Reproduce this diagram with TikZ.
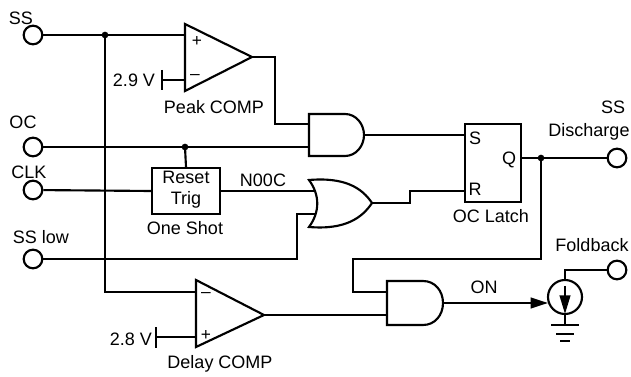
\documentclass[tikz,border=0pt]{standalone}
\usepackage{fontspec}
\setmainfont{Liberation Sans}
\usetikzlibrary{arrows.meta}
\tikzset{
  wire/.style={line width=1.6pt,line join=miter,line cap=butt},
  term/.style={circle,draw,line width=1.6pt,fill=white,minimum size=14pt,inner sep=0pt},
  dotj/.style={circle,fill=black,minimum size=5pt,inner sep=0pt},
  lab/.style={inner sep=0pt,font=\fontsize{13.5}{15}\selectfont},
  pm/.style={inner sep=0pt,font=\fontsize{13}{14}\selectfont},
  boxn/.style={draw,line width=1.6pt,inner sep=0pt}
}
\begin{document}
\begin{tikzpicture}[x=0.75pt,y=-0.75pt]
\useasboundingbox (0,0) rectangle (631,377);
% terminals
\node[term] (ss) at (33,35) {};
\node[term] (oc) at (33,147) {};
\node[term] (clk) at (33,190) {};
\node[term] (sslow) at (33,259) {};
\node[term] (dis) at (617,158) {};
\node[term] (fb) at (617,270) {};
% coordinates
\coordinate (j1) at (105,35);
\coordinate (pkp) at (185,35);
\coordinate (pkm) at (185,80);
\coordinate (pkref) at (162,80);
\coordinate (pko) at (252,57);
\coordinate (a1a) at (309,124);
\coordinate (a1b) at (309,147);
\coordinate (a1o) at (364,135);
\coordinate (j2) at (185,147);
\coordinate (o1a) at (314,191);
\coordinate (o1b) at (316,214);
\coordinate (o1o) at (372,203);
\coordinate (ls) at (465,135);
\coordinate (lr) at (465,191);
\coordinate (lq) at (521,158);
\coordinate (j3) at (541,158);
\coordinate (a2a) at (387,292);
\coordinate (a2b) at (387,315);
\coordinate (a2o) at (443,303);
\coordinate (dm) at (196,292);
\coordinate (dp) at (196,337);
\coordinate (dref) at (156,337);
\coordinate (do) at (264,315);
% boxes
\node[boxn,minimum width=50.4pt,minimum height=34.5pt] (trig) at (186,191) {};
\node[boxn,minimum width=42pt,minimum height=58.5pt] (latch) at (493,163) {};
% gates
\draw[wire] (185,24) -- (pko) -- (185,91) -- cycle;
\draw[wire] (196,280) -- (do) -- (196,347) -- cycle;
\draw[wire] (309,114) -- (345,114) .. controls (356,114) and (364,124) .. (a1o) .. controls (364,146) and (356,156) .. (345,156) -- (309,156) -- cycle;
\draw[wire] (387,281) -- (423,281) .. controls (435,281) and (443,291) .. (a2o) .. controls (443,315) and (435,325) .. (423,325) -- (387,325) -- cycle;
\draw[wire] (309,180) .. controls (345,177) and (362,188) .. (o1o) .. controls (362,218) and (345,230) .. (309,227) .. controls (320,212) and (320,195) .. cycle;
% current source
\node[circle,draw,line width=1.6pt,minimum size=25.5pt,inner sep=0pt] (src) at (565,297) {};
\coordinate (gnd) at (565,325);
\coordinate (arrtop) at (565,286);
\coordinate (arrbot) at (565,314);
\draw[wire,-{Triangle[length=14pt,width=8pt]}] (arrtop) -- (arrbot);
\draw[wire] (src.south) -- (gnd);
\draw[wire] (551,325) -- (579,325);
\draw[wire] (556,334) -- (574,334);
\draw[wire] (560,341) -- (570,341);
% wires
\draw[wire] (ss) -- (pkp);
\draw[wire] (j1) |- (dm);
\draw[wire] (pkm) -- (pkref);
\draw[wire] (162,70) -- (162,90);
\draw[wire] (pko) -- (275,57) |- (a1a);
\draw[wire] (oc) -- (a1b);
\draw[wire] (j2) -- (trig.north);
\draw[wire] (clk) -- (trig.west);
\draw[wire] (trig.east) -- (o1a);
\draw[wire] (sslow) -- (297,259) |- (o1b);
\draw[wire] (a1o) -- (ls);
\draw[wire] (o1o) -- (410,203) |- (lr);
\draw[wire] (lq) -- (dis);
\draw[wire] (j3) -- (541,259) -- (353,259) |- (a2a);
\draw[wire] (do) -- (a2b);
\draw[wire] (dp) -- (dref);
\draw[wire] (156,327) -- (156,348);
\draw[wire,-{Triangle[length=13pt,width=8pt]}] (a2o) -- (548,303);
\draw[wire] (src.north) -- (565,270) -- (fb);
% junctions
\node[dotj] at (j1) {};
\node[dotj] at (j2) {};
\node[dotj] at (j3) {};
% labels
\node[lab] (t1) at (21,18) {SS};
\node[lab] (t2) at (23,122) {OC};
\node[lab] (t3) at (29,172) {CLK};
\node[lab] (t4) at (41,237) {SS low};
\node[lab] (t5) at (134,80) {2.9 V};
\node[lab] (t6) at (214,107) {Peak COMP};
\node[lab] (t7) at (186,177) {Reset};
\node[lab] (t8) at (186,200) {Trig};
\node[lab] (t9) at (185,228) {One Shot};
\node[lab] (t10) at (263,180) {N00C};
\node[lab] (t11) at (613,107) {SS};
\node[lab] (t12) at (589,132) {Discharge};
\node[lab] (t13) at (475,138) {S};
\node[lab] (t14) at (509,160) {Q};
\node[lab] (t15) at (475,189) {R};
\node[lab] (t16) at (491,216) {OC Latch};
\node[lab] (t17) at (592,245) {Foldback};
\node[lab] (t18) at (484,287) {ON};
\node[lab] (t19) at (131,339) {2.8 V};
\node[lab] (t20) at (220,364) {Delay COMP};
\node[pm] (t21) at (197,42) {+};
\node[pm] (t22) at (195,77) {–};
\node[pm] (t23) at (206,295) {–};
\node[pm] (t24) at (206,335) {+};
\end{tikzpicture}
\end{document}
